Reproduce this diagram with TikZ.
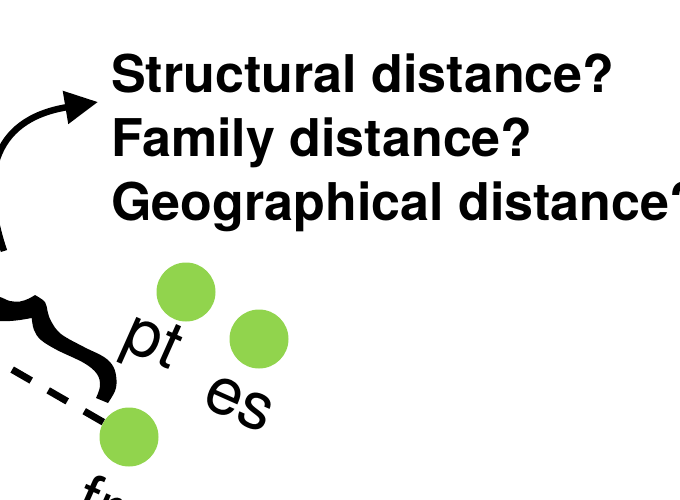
\documentclass[tikz,border=0pt]{standalone}
\usepackage{fontspec}
\setmainfont{TeX Gyre Heros}
\usetikzlibrary{arrows.meta}
\definecolor{DotClr}{RGB}{145,212,77}

\begin{document}
\begin{tikzpicture}[x=1pt,y=-1pt,
  dot/.style={circle,fill=DotClr,minimum size=59pt,inner sep=0pt},
  lang/.style={font=\fontsize{66}{70}\selectfont,inner sep=0pt,rotate=-24},
  question/.style={anchor=base west,inner sep=0pt,font=\fontsize{52}{60}\selectfont\bfseries},
  flow/.style={line width=6.5pt,-{Triangle[length=33pt,width=32pt]}},
  dashline/.style={line width=7pt,dash pattern=on 22pt off 19.6pt}]
\useasboundingbox (0,0) rectangle (680,500);
\clip (0,0) rectangle (680,500);

\node[question] (structural) at (111,93) {Structural distance?};
\node[question] (family) at (111,157) {Family distance?};
\node[question] (geographical) at (111,220) {Geographical distance?};

\node[dot] (dotPt) at (186,292) {};
\node[dot] (dotEs) at (259,339) {};
\node[dot] (dotFr) at (129,437) {};

\node[lang] (labelPt) at (151,345) {pt};
\node[lang] (labelEs) at (239,404) {es};
\node[lang] (labelFr) at (100,502) {fr};

\coordinate (arrowStart) at (4,251);
\coordinate (arrowTip) at ([xshift=-13pt,yshift=-9pt]structural.base west);
\coordinate (dashEnd) at (-20,351);

\draw[flow] (arrowStart) .. controls (-20,180) and (-10,120) .. (arrowTip);
\draw[dashline] (dotFr) -- (dashEnd);

\fill plot[smooth,tension=.6] coordinates {(-8,296) (0,297) (10,301) (20,301.5) (29,298.5) (35,295)}
  -- plot[smooth,tension=.6] coordinates {(35,295) (45,302) (47.5,311) (51,321) (61,334) (84,347) (104,357) (113.5,367) (116.5,380) (115,391) (108,403)}
  -- plot[smooth,tension=.6] coordinates {(96,398) (100,386) (97,374) (84,363) (57,350) (41,340) (34,330) (31.7,318)}
  -- plot[smooth,tension=.6] coordinates {(31.7,318) (20,320) (10,321) (0,321) (-8,322)} -- cycle;

\end{tikzpicture}
\end{document}
